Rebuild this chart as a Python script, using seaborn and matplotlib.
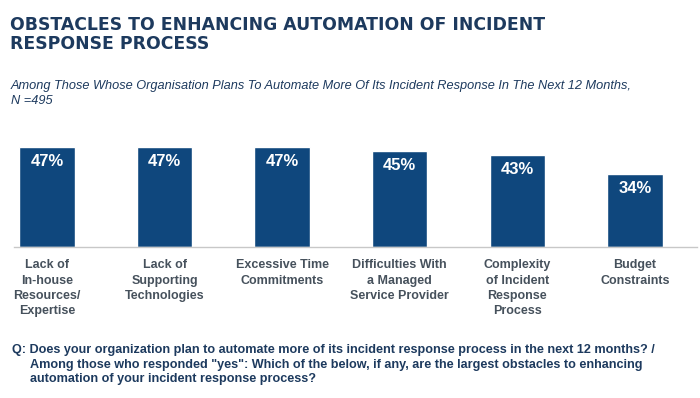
import matplotlib
matplotlib.use("Agg")
import matplotlib.pyplot as plt
import seaborn as sns
import pandas as pd

# values
categories = [
    "Lack of\nIn-house\nResources/\nExpertise",
    "Lack of\nSupporting\nTechnologies",
    "Excessive Time\nCommitments",
    "Difficulties With\na Managed\nService Provider",
    "Complexity\nof Incident\nResponse\nProcess",
    "Budget\nConstraints",
]
shares = [47, 47, 47, 45, 43, 34]

title = "OBSTACLES TO ENHANCING AUTOMATION OF INCIDENT\nRESPONSE PROCESS"
subtitle = ("Among Those Whose Organisation Plans To Automate More Of Its Incident Response In The Next 12 Months,\n"
            "N =495")
question = ["Q: Does your organization plan to automate more of its incident response process in the next 12 months? /",
            "Among those who responded \"yes\": Which of the below, if any, are the largest obstacles to enhancing",
            "automation of your incident response process?"]

bar_color = "#0f477d"
title_color = "#1d3a5e"
label_color = "#46515c"

sns.set_theme(style="white")
plt.rcParams["font.family"] = ["Liberation Sans", "DejaVu Sans"]

df = pd.DataFrame({"category": categories, "share": shares})

fig = plt.figure(figsize=(7, 3.98), dpi=100)
ax = fig.add_axes([0.02, 0.3794, 0.976, 0.3216])

sns.barplot(data=df, x="category", y="share", color=bar_color, width=0.47,
            saturation=1, ax=ax)

ax.set_xlim(-0.28, 5.53)
ax.set_ylim(0, 60)
ax.set_xlabel("")
ax.set_ylabel("")
ax.set_yticks([])
for side in ["top", "left", "right"]:
    ax.spines[side].set_visible(False)
ax.spines["bottom"].set_color("#c8c8c8")
ax.spines["bottom"].set_linewidth(1)
ax.tick_params(axis="x", length=0, pad=9)
ax.set_xticklabels(categories, fontsize=9, fontweight="bold", color=label_color,
                   linespacing=1.35, va="top")

# value labels inside the top of each bar
for p, v in zip(ax.patches, shares):
    ax.annotate(f"{v}%", (p.get_x() + p.get_width() / 2, p.get_height()),
                xytext=(0, -5), textcoords="offset points",
                ha="center", va="top", color="white", fontsize=12, fontweight="bold")

fig.text(10 / 700, 1 - 16 / 398, title, ha="left", va="top", fontsize=12.4,
         fontweight="bold", color=title_color, linespacing=1.08,
         family=["DejaVu Sans"])
fig.text(11 / 700, 1 - 80 / 398, subtitle, ha="left", va="top", fontsize=9.2,
         style="italic", color=title_color, linespacing=1.3)

fig.text(12 / 700, 1 - 350 / 398, question[0], ha="left", va="center", fontsize=9.1,
         fontweight="bold", color=title_color)
fig.text(30 / 700, 1 - 365 / 398, question[1], ha="left", va="center", fontsize=9.1,
         fontweight="bold", color=title_color)
fig.text(30 / 700, 1 - 379 / 398, question[2], ha="left", va="center", fontsize=9.1,
         fontweight="bold", color=title_color)

fig.savefig("out.png", dpi=100, facecolor="white")
